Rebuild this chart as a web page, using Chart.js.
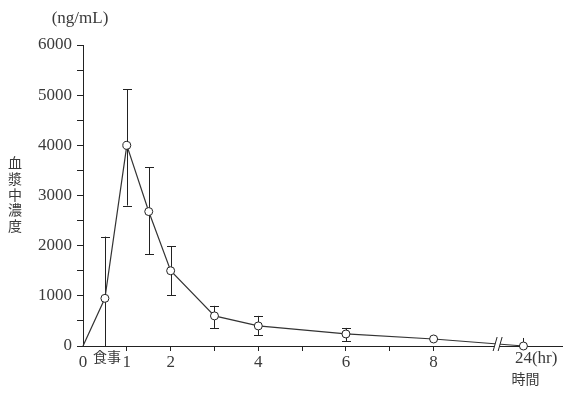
<!DOCTYPE html>
<html>
<head>
<meta charset="utf-8">
<script src="https://cdn.jsdelivr.net/npm/chart.js@4/dist/chart.umd.min.js"></script>
<style>
  html, body { margin: 0; padding: 0; background: #fff; }
  #wrap { width: 571px; height: 395px; }
</style>
</head>
<body>
<div id="wrap"><canvas id="c" width="571" height="395"></canvas></div>
<script>
// Sampling times (hr) and mean plasma concentration (ng/mL)
const times    = [0, 0.5, 1, 1.5, 2, 3, 4, 6, 8, 24];
const conc     = [0, 950, 4000, 2680, 1500, 600, 400, 240, 140, 0];
// Upper / lower ends of the error bars (ng/mL)
const errUpper = [null, 2180, 5120, 3560, 1990, 800, 600, 360, null, 160];
const errLower = [null, 0, 2800, 1830, 1010, 360, 220, 100, null, null];
// Axis tick labels
const xTickLabels = {0: '0', 1: '1', 2: '2', 4: '4', 6: '6', 8: '8'};
const yTickValues = [0, 1000, 2000, 3000, 4000, 5000, 6000];

// The time axis is broken between 8 h and 24 h
const BREAK_FROM = 8, LAST_TIME = 24, LAST_POS = 10.05, BREAK_POS = 9.45;
function axisPos(t) {
  return t <= BREAK_FROM ? t : BREAK_FROM + (t - BREAK_FROM) * (LAST_POS - BREAK_FROM) / (LAST_TIME - BREAK_FROM);
}

const TEXT = '#3a3a3a';
const INK = '#222';
const SERIF = '"Liberation Serif", "DejaVu Serif", serif';
const CJK = '"Noto Sans CJK JP", sans-serif';

const points = times.map((t, i) => ({x: axisPos(t), y: conc[i]}));

const extras = {
  id: 'extras',
  beforeDatasetsDraw(chart) {
    const {ctx, scales: {x, y}} = chart;
    ctx.save();
    ctx.strokeStyle = INK;
    ctx.lineWidth = 1;
    times.forEach((t, i) => {
      if (errUpper[i] == null) return;
      const px = Math.round(x.getPixelForValue(axisPos(t))) + 0.5;
      const top = y.getPixelForValue(errUpper[i]);
      const bot = y.getPixelForValue(errLower[i] == null ? conc[i] : errLower[i]);
      ctx.beginPath();
      ctx.moveTo(px, top); ctx.lineTo(px, bot);
      const capped = i !== times.length - 1;
      if (capped) {
        ctx.moveTo(px - 4.5, Math.round(top) + 0.5); ctx.lineTo(px + 4.5, Math.round(top) + 0.5);
        if (errLower[i]) {
          ctx.moveTo(px - 4.5, Math.round(bot) + 0.5); ctx.lineTo(px + 4.5, Math.round(bot) + 0.5);
        }
      }
      ctx.stroke();
    });
    ctx.restore();
  },
  afterDraw(chart) {
    const {ctx, scales: {x, y}} = chart;
    ctx.save();
    // axis break marks
    const bx = x.getPixelForValue(BREAK_POS);
    const by = y.getPixelForValue(0) - 2;
    ctx.fillStyle = '#fff';
    ctx.beginPath();
    ctx.moveTo(bx - 4, by + 7); ctx.lineTo(bx, by - 7); ctx.lineTo(bx + 5, by - 7); ctx.lineTo(bx + 1, by + 7);
    ctx.closePath(); ctx.fill();
    ctx.strokeStyle = INK; ctx.lineWidth = 1;
    ctx.beginPath();
    ctx.moveTo(bx - 4, by + 7); ctx.lineTo(bx, by - 7);
    ctx.moveTo(bx + 1, by + 7); ctx.lineTo(bx + 5, by - 7);
    ctx.stroke();
    // redraw the last point above the break
    // axis labels
    ctx.fillStyle = TEXT;
    ctx.textBaseline = 'middle';
    ctx.font = '17px ' + SERIF;
    ctx.textAlign = 'center';
    ctx.fillText('(ng/mL)', 80, 19);
    const lx = x.getPixelForValue(LAST_POS);
    const w24 = ctx.measureText('24').width;
    ctx.textAlign = 'left';
    ctx.fillText('24(hr)', lx - w24 / 2, 359);
    ctx.font = '14px ' + CJK;
    ctx.textAlign = 'center';
    ctx.fillText('時間', lx + 2, 379);
    ctx.fillText('食事', x.getPixelForValue(0.5) + 2, 357);
    const yl = ['血', '漿', '中', '濃', '度'];
    yl.forEach((ch, i) => ctx.fillText(ch, 15, 163 + i * 15.7));
    ctx.restore();
  }
};

new Chart(document.getElementById('c'), {
  type: 'line',
  data: {
    datasets: [{
      data: points,
      borderColor: '#333',
      borderWidth: 1.2,
      pointRadius: ctx => ctx.dataIndex === 0 ? 0 : 4,
      pointBackgroundColor: '#fff',
      pointBorderColor: '#222',
      pointBorderWidth: 1,
      tension: 0,
      clip: false
    }]
  },
  options: {
    responsive: false,
    animation: false,
    events: [],
    layout: {padding: {left: 0, top: 45, right: 9, bottom: 0}},
    plugins: {legend: {display: false}, tooltip: {enabled: false}},
    scales: {
      x: {
        type: 'linear',
        min: 0,
        max: 10.93,
        afterBuildTicks(scale) {
          scale.ticks = [0, 1, 2, 3, 4, 5, 6, 7, 8].map(v => ({value: v}));
        },
        afterFit(scale) { scale.height = 49; },
        ticks: {
          autoSkip: false,
          maxRotation: 0,
          padding: 1,
          color: TEXT,
          font: {family: SERIF, size: 17},
          callback: v => xTickLabels[v] !== undefined ? xTickLabels[v] : ''
        },
        grid: {
          drawOnChartArea: false,
          tickLength: 5,
          color: c => (c.tick && c.tick.value === 0) ? 'rgba(0,0,0,0)' : INK
        },
        border: {color: INK, width: 1}
      },
      y: {
        min: 0,
        max: 6000,
        afterBuildTicks(scale) {
          const t = [];
          for (let v = 0; v <= 6000; v += 500) t.push({value: v});
          scale.ticks = t;
        },
        afterFit(scale) { scale.width = 83; },
        ticks: {
          autoSkip: false,
          padding: 5,
          color: TEXT,
          font: {family: SERIF, size: 17},
          callback: v => yTickValues.includes(v) ? String(v) : ''
        },
        grid: {
          drawOnChartArea: false,
          tickLength: 6,
          color: INK
        },
        border: {color: INK, width: 1}
      }
    }
  },
  plugins: [extras]
});
</script>
</body>
</html>
